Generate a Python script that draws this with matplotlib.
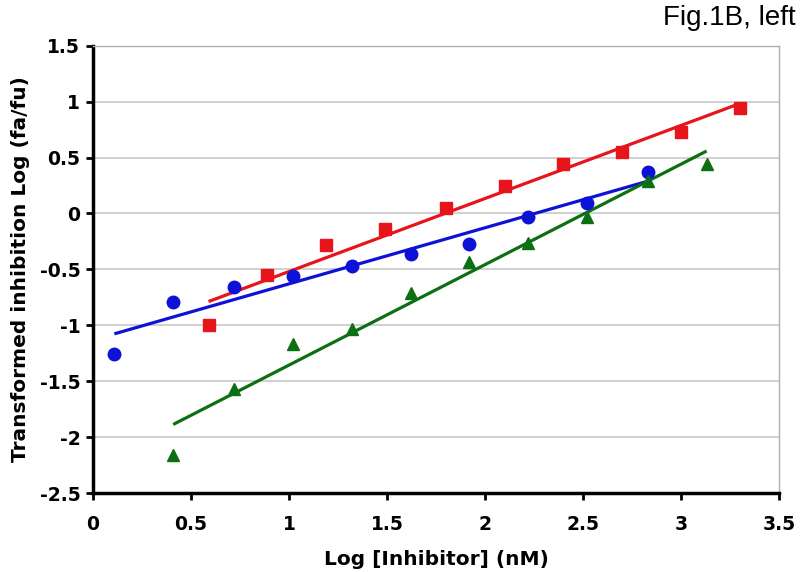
import matplotlib
matplotlib.use('Agg')
import matplotlib.pyplot as plt
import numpy as np

# ============ data ============
red_x = [0.59, 0.89, 1.19, 1.49, 1.80, 2.10, 2.40, 2.70, 3.00, 3.30]
red_y = [-1.00, -0.55, -0.28, -0.14, 0.05, 0.25, 0.44, 0.55, 0.73, 0.94]

blue_x = [0.11, 0.41, 0.72, 1.02, 1.32, 1.62, 1.92, 2.22, 2.52, 2.83]
blue_y = [-1.26, -0.79, -0.66, -0.56, -0.47, -0.36, -0.27, -0.03, 0.09, 0.37]

green_x = [0.41, 0.72, 1.02, 1.32, 1.62, 1.92, 2.22, 2.52, 2.83, 3.13]
green_y = [-2.16, -1.57, -1.17, -1.03, -0.71, -0.43, -0.26, -0.03, 0.29, 0.44]

x_ticks = [0, 0.5, 1, 1.5, 2, 2.5, 3, 3.5]
y_ticks = [-2.5, -2, -1.5, -1, -0.5, 0, 0.5, 1, 1.5]

series = [
    (red_x, red_y, '#e8141b', 's', 8),
    (blue_x, blue_y, '#0d12d6', 'o', 9),
    (green_x, green_y, '#0c7012', '^', 9),
]

fig = plt.figure(figsize=(8, 5.72), dpi=100)
ax = fig.add_axes([0.116, 0.138, 0.858, 0.782])

for xs, ys, col, mk, ms in series:
    xs = np.array(xs)
    ys = np.array(ys)
    ax.plot(xs, ys, linestyle='none', marker=mk, color=col, markersize=ms, zorder=3)
    # linear trend line over the data range
    k, b = np.polyfit(xs, ys, 1)
    ax.plot([xs.min(), xs.max()], [k * xs.min() + b, k * xs.max() + b],
            color=col, linewidth=2.3, zorder=2, solid_capstyle='butt')

ax.set_xlim(0, 3.5)
ax.set_ylim(-2.5, 1.5)
ax.set_xticks(x_ticks)
ax.set_yticks(y_ticks)
ax.set_xticklabels([f'{t:g}' for t in x_ticks])
ax.set_yticklabels([f'{t:g}' for t in y_ticks])

ax.yaxis.grid(True, color='#c8c8c8', linewidth=1.2)
ax.set_axisbelow(True)

for s in ['left', 'bottom']:
    ax.spines[s].set_color('black')
    ax.spines[s].set_linewidth(2.5)
for s in ['top', 'right']:
    ax.spines[s].set_color('#b0b0b0')
    ax.spines[s].set_linewidth(1.0)

ax.tick_params(axis='both', direction='out', length=5, width=2, color='black',
               labelsize=13.5)
ax.tick_params(axis='x', pad=11)
ax.tick_params(axis='y', pad=4)
for lab in ax.get_xticklabels() + ax.get_yticklabels():
    lab.set_fontweight('bold')

ax.set_xlabel('Log [Inhibitor] (nM)', fontsize=14.5, fontweight='bold', labelpad=11)
ax.set_ylabel('Transformed inhibition Log (fa/fu)', fontsize=14.5, fontweight='bold', labelpad=7)

fig.text(0.994, 0.992, 'Fig.1B, left', ha='right', va='top', fontsize=20,
         family='Liberation Sans')

plt.savefig('out.png', dpi=100)
plt.close()
